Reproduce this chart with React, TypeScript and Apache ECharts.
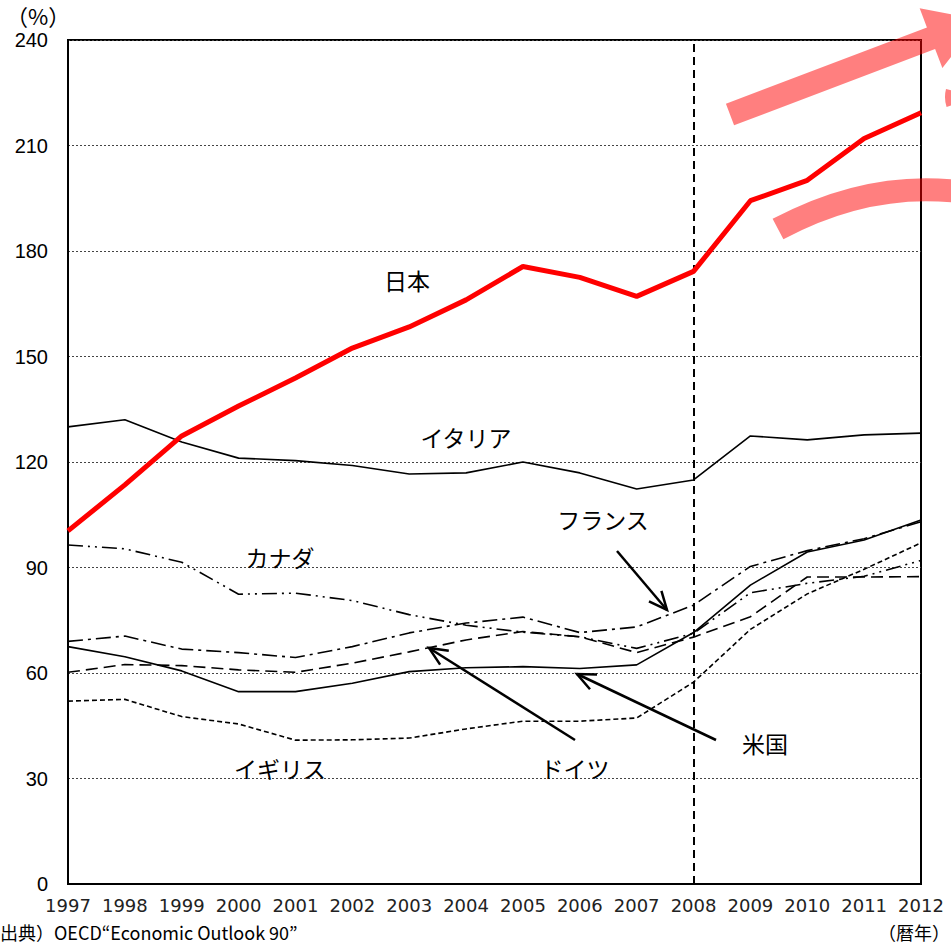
import React, { useEffect, useRef } from "react";
import * as echarts from "echarts";

const years = ["1997","1998","1999","2000","2001","2002","2003","2004","2005","2006","2007","2008","2009","2010","2011","2012"];
const japan = [100.4, 113.5, 127.4, 135.9, 143.9, 152.4, 158.4, 166.1, 175.6, 172.5, 167.1, 174.2, 194.3, 200.1, 212.0, 219.3];
const italy = [130.0, 132.0, 125.7, 121.1, 120.4, 119.0, 116.6, 116.9, 120.0, 116.9, 112.3, 114.9, 127.4, 126.3, 127.7, 128.2];
const canada = [96.4, 95.3, 91.5, 82.4, 82.7, 80.6, 76.6, 73.6, 71.6, 70.3, 67.0, 71.3, 82.8, 85.5, 87.5, 92.0];
const france = [69.0, 70.5, 66.8, 65.8, 64.4, 67.5, 71.4, 74.2, 75.9, 71.5, 73.1, 79.3, 90.3, 94.8, 98.2, 103.0];
const usa = [67.5, 64.6, 60.6, 54.7, 54.7, 57.1, 60.4, 61.5, 61.8, 61.3, 62.3, 71.5, 85.0, 94.4, 97.8, 103.5];
const germany = [60.2, 62.4, 62.1, 60.9, 60.2, 62.8, 66.0, 69.4, 71.8, 70.3, 65.8, 70.2, 76.0, 87.3, 87.3, 87.4];
const uk = [52.0, 52.5, 47.6, 45.5, 40.9, 41.0, 41.5, 44.1, 46.3, 46.3, 47.2, 57.4, 72.4, 82.5, 89.5, 97.0];
const yTicks = { min: 0, max: 240, interval: 30 };
const markYear = "2008";

const JP = '"Noto Sans CJK JP", "Noto Sans", sans-serif';

function arrow(x1: number, y1: number, x2: number, y2: number) {
  const ang = Math.atan2(y2 - y1, x2 - x1);
  const len = 20;
  const spread = 0.42;
  const a1 = ang + Math.PI - spread;
  const a2 = ang + Math.PI + spread;
  return [
    { type: "line", shape: { x1, y1, x2, y2 }, style: { stroke: "#000", lineWidth: 2.5 }, z: 100 },
    {
      type: "polyline",
      shape: {
        points: [
          [x2 + len * Math.cos(a1), y2 + len * Math.sin(a1)],
          [x2, y2],
          [x2 + len * Math.cos(a2), y2 + len * Math.sin(a2)],
        ],
      },
      style: { stroke: "#000", lineWidth: 2.5, fill: null },
      z: 100,
    },
  ];
}

function bigArrow() {
  const S = [730, 114.5];
  const d = [0.935, -0.355];
  const n = [0.355, 0.935];
  const w = 11.5, L1 = 215, hw = 32, hl = 52;
  const B = [S[0] + d[0] * L1, S[1] + d[1] * L1];
  const T = [B[0] + d[0] * hl, B[1] + d[1] * hl];
  const p = (P: number[], k: number) => [P[0] + n[0] * k, P[1] + n[1] * k];
  return {
    type: "polygon",
    shape: { points: [p(S, -w), p(B, -w), p(B, -hw), T, p(B, hw), p(B, w), p(S, w)] },
    style: { fill: "rgba(255,0,0,0.5)" },
    z: 200,
  };
}

function label(text: string, x: number, y: number) {
  return {
    type: "text",
    x,
    y,
    style: { text, fill: "#000", fontSize: 23, fontFamily: JP, align: "center", verticalAlign: "middle" },
    z: 100,
  };
}

export default function App() {
  const ref = useRef<HTMLDivElement>(null);
  useEffect(() => {
    if (!ref.current) return;
    const chart = echarts.init(ref.current, null, { renderer: "svg" });
    const thin = (data: number[], type: any, name: string) => ({
      name,
      type: "line",
      data,
      symbol: "none",
      lineStyle: { color: "#000", width: 1.6, type },
      z: 3,
    });
    chart.setOption({
      animation: false,
      backgroundColor: "#fff",
      grid: { left: 68, right: 30, top: 40, bottom: 60, show: true, borderColor: "#000", borderWidth: 2, backgroundColor: "transparent" },
      xAxis: {
        type: "category",
        data: years,
        boundaryGap: false,
        axisLine: { lineStyle: { color: "#000", width: 2 } },
        axisTick: { show: false },
        axisLabel: { interval: 0, fontSize: 18, fontFamily: "DejaVu Sans", color: "#222", margin: 12 },
        splitLine: { show: false },
      },
      yAxis: {
        type: "value",
        min: yTicks.min,
        max: yTicks.max,
        interval: yTicks.interval,
        axisLine: { show: true, lineStyle: { color: "#000", width: 2 } },
        axisTick: { show: false },
        axisLabel: { fontSize: 20, fontFamily: '"Liberation Sans", Arial, sans-serif', color: "#000", margin: 20 },
        splitLine: { show: true, lineStyle: { color: "#444", width: 1, type: [2, 2] } },
      },
      series: [
        thin(italy, "solid", "イタリア"),
        thin(canada, [15, 5, 2, 5, 2, 5], "カナダ"),
        thin(france, [15, 5, 3, 5], "フランス"),
        thin(usa, "solid", "米国"),
        thin(germany, [12, 6], "ドイツ"),
        thin(uk, [5, 3], "イギリス"),
        {
          name: "日本",
          type: "line",
          data: japan,
          symbol: "none",
          lineStyle: { color: "#ff0000", width: 5 },
          z: 5,
          markLine: {
            silent: true,
            symbol: "none",
            label: { show: false },
            lineStyle: { color: "#000", width: 2, type: [8, 5] },
            data: [{ xAxis: markYear }],
          },
        },
      ],
      graphic: [
        { type: "text", x: 6, y: 4, style: { text: "（%）", fill: "#000", fontSize: 22, fontFamily: JP } },
        { type: "text", x: 0, y: 923, style: { text: "出典）OECD“Economic Outlook 90”", fill: "#000", fontSize: 18, fontFamily: JP } },
        { type: "text", x: 878, y: 923, style: { text: "（暦年）", fill: "#000", fontSize: 18, fontFamily: JP } },
        label("日本", 407, 280),
        label("イタリア", 466, 437),
        label("カナダ", 280, 557),
        label("フランス", 603, 519),
        label("イギリス", 280, 768),
        label("ドイツ", 575, 768),
        label("米国", 765, 743),
        ...arrow(617, 551, 667, 610),
        ...arrow(575, 740, 429, 648),
        ...arrow(716, 740, 577, 674),
        bigArrow(),
        {
          type: "bezierCurve",
          shape: { x1: 778, y1: 229, cpx1: 870, cpy1: 180, x2: 962, y2: 192 },
          style: { stroke: "rgba(255,0,0,0.5)", lineWidth: 23, fill: null },
          z: 200,
        },
        {
          type: "arc",
          shape: { cx: 977, cy: 97, r: 28, startAngle: Math.PI * 0.9, endAngle: Math.PI * 1.08 },
          style: { stroke: "rgba(255,0,0,0.5)", lineWidth: 8, fill: null },
          z: 200,
        },
      ],
    });
    return () => chart.dispose();
  }, []);
  return <div ref={ref} style={{ position: "absolute", left: 0, top: 0, width: 951, height: 944 }} />;
}
